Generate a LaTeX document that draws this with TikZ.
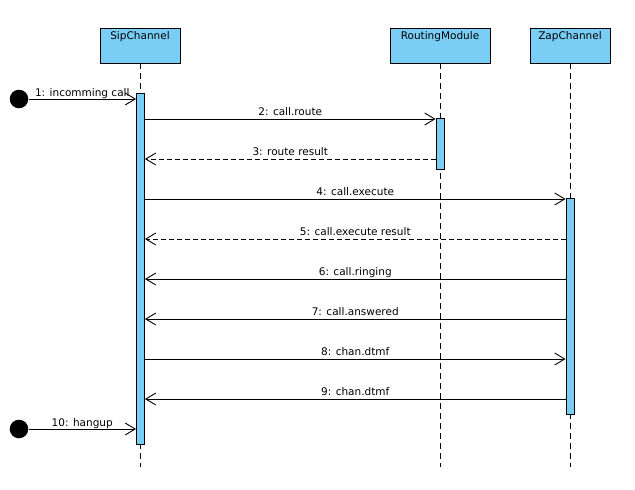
\documentclass[tikz,border=0pt]{standalone}
\usepackage{fontspec}
\setmainfont{DejaVu Sans}
\usetikzlibrary{arrows.meta}
\definecolor{objblue}{RGB}{122,206,245}
\tikzset{
	object/.style={draw, fill=objblue, line width=0.9pt, minimum width=80pt, minimum height=35pt, inner sep=0pt},
	lifeline/.style={line width=0.9pt, dash pattern=on 6pt off 4pt},
	actbar/.style={draw, fill=objblue, line width=0.9pt, minimum width=8pt, inner sep=0pt, anchor=north},
	startdot/.style={circle, fill=black, minimum size=18.6pt, inner sep=0pt},
	msg/.style={line width=0.9pt, -{Straight Barb[length=10pt,width=12pt]}},
	reply/.style={msg, dash pattern=on 5pt off 3pt},
	lbl/.style={anchor=base, yshift=4pt, inner sep=0pt}
}
\begin{document}
\begin{tikzpicture}[x=1pt, y=-1pt, font=\fontsize{10.5}{12}\selectfont]
	\useasboundingbox (0,0) rectangle (635,490);
	% objects and lifelines
	\node[object] (sip) at (140,45.5) {};
	\node[object, minimum width=100pt] (rm) at (440,45.5) {};
	\node[object] (zap) at (570,45.5) {};
	\node[anchor=north, inner sep=0pt] at (sip.north |- 0,31) {SipChannel};
	\node[anchor=north, inner sep=0pt] at (rm.north |- 0,31) {RoutingModule};
	\node[anchor=north, inner sep=0pt] at (zap.north |- 0,31) {ZapChannel};
	\coordinate (sipend) at (140,467);
	\coordinate (rmend) at (440,467);
	\coordinate (zapend) at (570,467);
	\draw[lifeline] (sip.south) -- (sipend);
	\draw[lifeline] (rm.south) -- (rmend);
	\draw[lifeline] (zap.south) -- (zapend);
	% activations
	\node[actbar, minimum height=351pt] (sipact) at (140.5,93) {};
	\node[actbar, minimum height=51pt] (rmact) at (440,118) {};
	\node[actbar, minimum height=216pt] (zapact) at (570,198) {};
	\node[startdot] (in1) at (19,99) {};
	\node[startdot] (in10) at (19,429) {};
	% messages
	\path
	(in1) edge[msg] node[lbl, yshift=-1.5pt]{1: incomming call} (sipact.west |- 0,99)
	(sipact.east |- 0,119) edge[msg] node[lbl]{2: call.route} (rmact.west |- 0,119)
	(rmact.west |- 0,159) edge[reply] node[lbl]{3: route result} (sipact.east |- 0,159)
	(sipact.east |- 0,199) edge[msg] node[lbl]{4: call.execute} (zapact.west |- 0,199)
	(zapact.west |- 0,239) edge[reply] node[lbl]{5: call.execute result} (sipact.east |- 0,239)
	(zapact.west |- 0,279) edge[msg] node[lbl]{6: call.ringing} (sipact.east |- 0,279)
	(zapact.west |- 0,319) edge[msg] node[lbl]{7: call.answered} (sipact.east |- 0,319)
	(sipact.east |- 0,359) edge[msg] node[lbl]{8: chan.dtmf} (zapact.west |- 0,359)
	(zapact.west |- 0,399) edge[msg] node[lbl]{9: chan.dtmf} (sipact.east |- 0,399)
	(in10) edge[msg] node[lbl, yshift=-1pt]{10: hangup} (sipact.west |- 0,429);
\end{tikzpicture}
\end{document}
